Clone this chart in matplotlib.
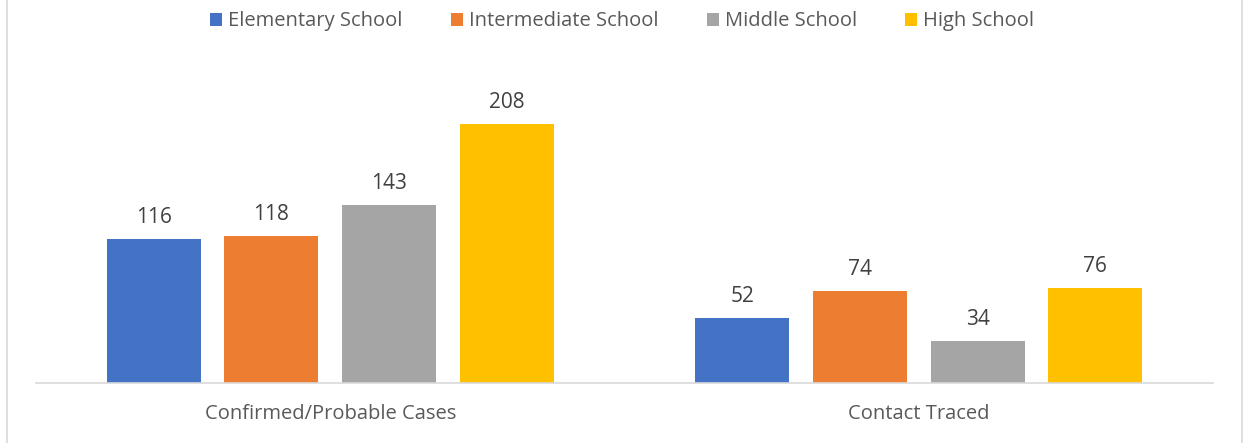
import numpy as np
import matplotlib.pyplot as plt
from matplotlib.patches import Rectangle

# data
categories = ["Confirmed/Probable Cases", "Contact Traced"]
series = ["Elementary School", "Intermediate School", "Middle School", "High School"]
elementary = [116, 52]
intermediate = [118, 74]
middle = [143, 34]
high = [208, 76]
colors = ["#4472C4", "#ED7D31", "#A5A5A5", "#FFC000"]

plt.rcParams["font.family"] = ["Open Sans", "DejaVu Sans"]
TXT = "#595959"

fig = plt.figure(figsize=(12.44, 4.43), dpi=100)
ax = fig.add_axes([36 / 1244, (443 - 383) / 443, 1177 / 1244, (383 - 72) / 443])

x = np.arange(len(categories))
width = 0.16
step = 0.2
for i, (name, vals) in enumerate(zip(series, [elementary, intermediate, middle, high])):
    pos = x + (i - 1.5) * step
    bars = ax.bar(pos, vals, width, color=colors[i], label=name)
    for b, v in zip(bars, vals):
        ax.annotate(str(v), (b.get_x() + b.get_width() / 2, v), xytext=(0, 8),
                    textcoords="offset points", ha="center", va="bottom",
                    fontsize=15, color="#404040")

ax.set_xlim(-0.5, 1.5)
ax.set_ylim(0, 250)
ax.set_yticks([])
ax.set_xticks(x)
ax.set_xticklabels(categories, fontsize=14.5, color=TXT)
ax.tick_params(axis="x", length=0, pad=15)
for s in ["top", "right", "left"]:
    ax.spines[s].set_visible(False)
ax.spines["bottom"].set_color("#D9D9D9")
ax.spines["bottom"].set_linewidth(1.2)

leg = fig.legend(loc="upper center", bbox_to_anchor=(0.5, 1.015), ncol=4, frameon=False,
                 fontsize=14.5, handlelength=0.6, handleheight=0.6, handletextpad=0.3,
                 columnspacing=2.4)
for t in leg.get_texts():
    t.set_color(TXT)

# chart frame
fig.patches.append(Rectangle((7 / 1244, -0.01), (1242 - 7) / 1244, 1.02, transform=fig.transFigure,
                             fill=False, edgecolor="#D9D9D9", linewidth=1.2))

fig.savefig("out.png", dpi=100)
